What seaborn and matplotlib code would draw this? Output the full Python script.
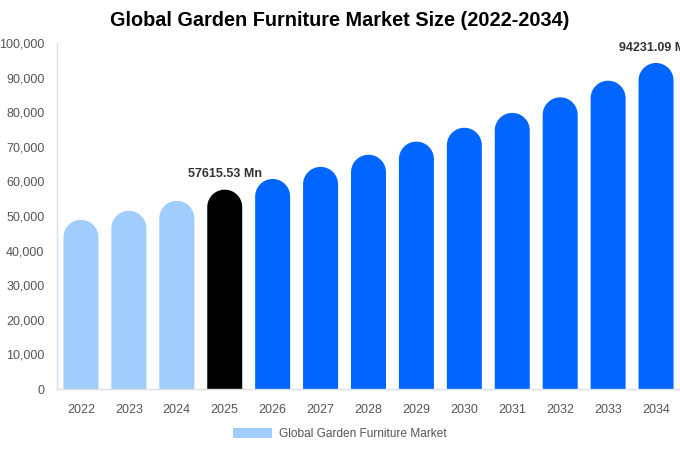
import matplotlib
matplotlib.use("Agg")
import matplotlib.pyplot as plt
import seaborn as sns
import pandas as pd
import numpy as np
from matplotlib.path import Path
from matplotlib.patches import PathPatch, Patch

years = ["2022", "2023", "2024", "2025", "2026", "2027", "2028",
         "2029", "2030", "2031", "2032", "2033", "2034"]
values = [48900, 51500, 54400, 57615.53, 60700, 64200, 67700,
          71500, 75500, 79800, 84300, 89100, 94231.09]
labels = {"2025": "57615.53 Mn", "2034": "94231.09 Mn"}
series_name = "Global Garden Furniture Market"

LIGHT = "#A0CDFE"
DARK = "#0066FF"
HIGHLIGHT = "#000000"
colors = [LIGHT if int(y) < 2025 else (HIGHLIGHT if y == "2025" else DARK) for y in years]

df = pd.DataFrame({"year": years, "value": values})

sns.set_theme(style="white")
plt.rcParams["font.family"] = ["Liberation Sans", "DejaVu Sans"]

fig = plt.figure(figsize=(6.8, 4.5), dpi=100)
ax = fig.add_axes([57/680, 61/450, 623/680, 346/450])

sns.barplot(data=df, x="year", y="value", hue="year", palette=colors,
            legend=False, width=0.73, ax=ax, saturation=1)
ax.set_ylim(0, 100000)
ax.set_xlim(-0.5, len(years) - 0.5)

# replace bars with rounded-top versions
fig.canvas.draw()
px_per_x = ax.transData.transform((1, 0))[0] - ax.transData.transform((0, 0))[0]
px_per_y = ax.transData.transform((0, 1000))[1] - ax.transData.transform((0, 0))[1]
for p in list(ax.patches):
    x0, w, h = p.get_x(), p.get_width(), p.get_height()
    col = p.get_facecolor()
    r_px = w * px_per_x / 2
    ry = r_px / px_per_y * 1000
    rx = w / 2
    cx = x0 + rx
    base = h - ry
    t = np.linspace(0, np.pi, 40)
    arc = np.column_stack([cx + rx * np.cos(t), base + ry * np.sin(t)])
    verts = np.vstack([[x0 + w, 0], [x0 + w, base], arc, [x0, 0], [x0 + w, 0]])
    codes = [Path.MOVETO] + [Path.LINETO] * (len(verts) - 2) + [Path.CLOSEPOLY]
    ax.add_patch(PathPatch(Path(verts, codes), facecolor=col, edgecolor="none", lw=0))
    p.remove()

for i, y in enumerate(years):
    if y in labels:
        ax.text(i, values[i] + 2700, labels[y], ha="center", va="bottom",
                fontsize=9, fontweight="bold", color="#333333", clip_on=False)

ax.set_xlabel("")
ax.set_ylabel("")
ax.set_yticks(np.arange(0, 100001, 10000))
ax.set_yticklabels([f"{v:,}" for v in range(0, 100001, 10000)])
ax.tick_params(axis="both", length=0, labelsize=9, colors="#555555")
ax.tick_params(axis="x", pad=11)
ax.tick_params(axis="y", pad=9)
for s in ["top", "right"]:
    ax.spines[s].set_visible(False)
for s in ["left", "bottom"]:
    ax.spines[s].set_color("#DDDDDD")
    ax.spines[s].set_linewidth(1)
ax.grid(False)

fig.text(0.5, 1 - 21/450, "Global Garden Furniture Market Size (2022-2034)",
         ha="center", va="center", fontsize=14.3, fontweight="bold", color="#000000")

leg = fig.legend(handles=[Patch(facecolor=LIGHT, edgecolor="none", label=series_name)],
                 loc="center", bbox_to_anchor=(0.5, 1 - 434/450), frameon=False,
                 fontsize=8.6, handlelength=3.3, handleheight=0.9, handletextpad=0.6)
for t in leg.get_texts():
    t.set_color("#555555")

fig.savefig("out.png", dpi=100)
